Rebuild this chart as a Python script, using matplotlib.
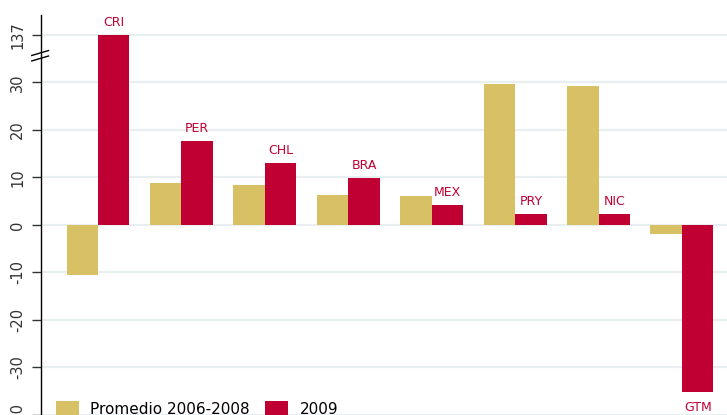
import matplotlib.pyplot as plt
import matplotlib.transforms as mtransforms
import numpy as np

# country codes and the two series
paises = ['CRI', 'PER', 'CHL', 'BRA', 'MEX', 'PRY', 'NIC', 'GTM']
promedio = [-10.5, 8.9, 8.5, 6.3, 6.0, 29.7, 29.2, -1.8]
anio2009 = [137, 17.7, 13.0, 9.9, 4.1, 2.4, 2.4, -35.2]

serie_labels = ['Promedio 2006-2008', '2009']
yticks = [-40, -30, -20, -10, 0, 10, 20, 30]

gold = '#D8C064'
crimson = '#C00033'

# values above the break are drawn at this height
corte = 35
techo = 40

fig = plt.figure(figsize=(7.27, 4.15), dpi=100)
ax = fig.add_axes([41 / 727, -19 / 415, 686 / 727, 419 / 415])

x = np.arange(len(paises))
w = 0.377
alto2009 = [v if v < corte else techo for v in anio2009]

b1 = ax.bar(x - w / 2, promedio, w, color=gold, label=serie_labels[0], zorder=3)
b2 = ax.bar(x + w / 2, alto2009, w, color=crimson, label=serie_labels[1], zorder=3)

# country label above (or below) each 2009 bar
for xi, h, name in zip(x, alto2009, paises):
    if h >= 0:
        ax.annotate(name, (xi + w / 2, h), xytext=(0, 6.5), textcoords='offset points',
                    ha='center', va='baseline', color=crimson, fontsize=9)
    else:
        ax.annotate(name, (xi + w / 2, h), xytext=(0, -6), textcoords='offset points',
                    ha='center', va='top', color=crimson, fontsize=9)

ax.set_xlim(-0.683, 7.54)
ax.set_ylim(-44, 44.2)

ticks = yticks + [techo]
labels = [str(t) for t in yticks] + [str(max(anio2009))]
ax.set_yticks(ticks)
ax.set_yticklabels(labels, rotation=90, va='center', fontsize=10.5, color='#333333')
ax.tick_params(axis='y', length=6.5, width=1.0, color='#333333', pad=5)
ax.set_xticks([])
ax.grid(axis='y', color='#E9EFF1', linewidth=1.6, zorder=0)

for s in ['top', 'right', 'bottom']:
    ax.spines[s].set_visible(False)
ax.spines['left'].set_linewidth(1.0)

# break marks on the axis
trans = mtransforms.blended_transform_factory(ax.transAxes, ax.transData)
for yc in (36.2, 35.05):
    ax.plot([-0.0135, 0.011], [yc - 0.52, yc + 0.52], color='black',
            lw=1.0, transform=trans, clip_on=False)

fig.legend(handles=[b1, b2], labels=serie_labels, loc='center left',
           bbox_to_anchor=(56 / 727, 1 - 409 / 415), ncol=2, frameon=False,
           fontsize=11, handlelength=1.5, handleheight=1.1, handletextpad=0.75,
           columnspacing=1.0, borderpad=0, borderaxespad=0)

fig.savefig('out.png', dpi=100)
